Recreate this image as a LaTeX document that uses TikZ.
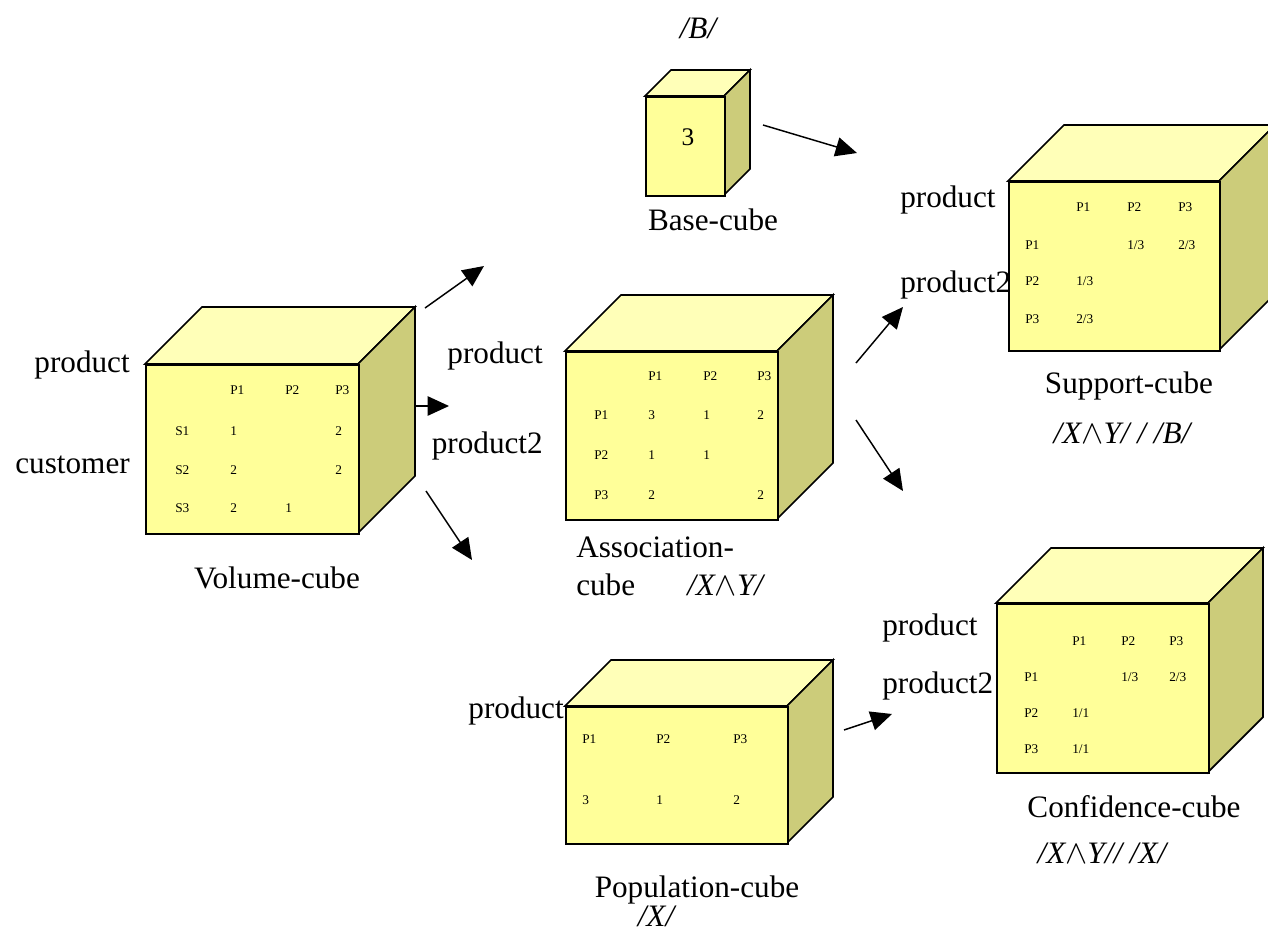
\documentclass[tikz,border=0pt]{standalone}
\usepackage{fontspec}
\setmainfont{Liberation Serif}
\usetikzlibrary{arrows.meta}

\definecolor{cubefront}{HTML}{FFFF99}
\definecolor{cubetop}{HTML}{FFFFB8}
\definecolor{cubeside}{HTML}{CCCC7A}

% cube: name, x, y (top-left of front face), width, height, depth
\newcommand\boxcube[6]{%
  \pgfmathsetmacro\cxr{#2+#4}%
  \pgfmathsetmacro\cyb{#3+#5}%
  \pgfmathsetmacro\cxd{#2+#6}%
  \pgfmathsetmacro\cyd{#3-#6}%
  \pgfmathsetmacro\cxrd{#2+#4+#6}%
  \pgfmathsetmacro\cybd{#3+#5-#6}%
  \draw[cubeedge,fill=cubetop] (#2,#3) -- (\cxd,\cyd) -- (\cxrd,\cyd) -- (\cxr,#3) -- cycle;
  \draw[cubeedge,fill=cubeside] (\cxr,#3) -- (\cxrd,\cyd) -- (\cxrd,\cybd) -- (\cxr,\cyb) -- cycle;
  \node[cubeedge,fill=cubefront,draw,rectangle,inner sep=0pt,anchor=north west,
        minimum width=#4*0.75pt,minimum height=#5*0.75pt] (#1) at (#2,#3) {};
}

\newcommand\wedgeof[2]{{\itshape /#1}$\wedge${\itshape #2/}}

\begin{document}
\begin{tikzpicture}[x=0.75pt,y=-0.75pt,
  cubeedge/.style={line width=1.3pt,line join=miter},
  biglabel/.style={font=\fontsize{23.4}{28}\selectfont,inner sep=0pt},
  cell/.style={font=\fontsize{10}{12}\selectfont,inner sep=0pt,anchor=west},
  flow/.style={-{Triangle[length=16pt,width=14.5pt]},line width=1.1pt}]
\useasboundingbox (0,0) rectangle (1268,933);
\clip (0,0) rectangle (1268,933);

% ---------- Volume-cube ----------
\boxcube{vol}{145}{364}{213}{169}{57}
\node[biglabel,anchor=base east] (vol-prod) at (130,372) {product};
\node[biglabel,anchor=base east] (vol-cust) at (130,473) {customer};
\node[biglabel,anchor=base] (vol-name) at (277,588) {Volume-cube};
\node[cell] (vol-h1) at (230,390) {P1};
\node[cell] (vol-h2) at (285,390) {P2};
\node[cell] (vol-h3) at (335,390) {P3};
\node[cell] (vol-r1) at (175,431) {S1};
\node[cell] (vol-r2) at (175,470) {S2};
\node[cell] (vol-r3) at (175,508) {S3};
\node[cell] (vol-11) at (230,431) {1};
\node[cell] (vol-13) at (335,431) {2};
\node[cell] (vol-21) at (230,470) {2};
\node[cell] (vol-23) at (335,470) {2};
\node[cell] (vol-31) at (230,508) {2};
\node[cell] (vol-32) at (285,508) {1};

% ---------- Association-cube ----------
\boxcube{asc}{565}{351}{212}{168}{56}
\node[biglabel,anchor=base east] (asc-prod) at (543,363) {product};
\node[biglabel,anchor=base east] (asc-prod2) at (543,453) {product2};
\node[biglabel,anchor=base west] (asc-name) at (576,557) {Association-};
\node[biglabel,anchor=base west] (asc-name2) at (576,595) {cube};
\node[biglabel,anchor=base west] (asc-form) at (687,595) {\wedgeof{X}{Y}};
\node[cell] (asc-h1) at (648,376) {P1};
\node[cell] (asc-h2) at (703,376) {P2};
\node[cell] (asc-h3) at (757,376) {P3};
\node[cell] (asc-r1) at (594,415) {P1};
\node[cell] (asc-r2) at (594,455) {P2};
\node[cell] (asc-r3) at (594,495) {P3};
\node[cell] (asc-11) at (648,415) {3};
\node[cell] (asc-12) at (703,415) {1};
\node[cell] (asc-13) at (757,415) {2};
\node[cell] (asc-21) at (648,455) {1};
\node[cell] (asc-22) at (703,455) {1};
\node[cell] (asc-31) at (648,495) {2};
\node[cell] (asc-33) at (757,495) {2};

% ---------- Base-cube ----------
\boxcube{base}{645}{96}{79}{99}{26}
\node[biglabel,anchor=base] (base-form) at (698,38) {\itshape /B/};
\node[font=\fontsize{19}{22}\selectfont,inner sep=0pt] (base-val) at (688,137) {3};
\node[biglabel,anchor=base] (base-name) at (713,230) {Base-cube};

% ---------- Support-cube ----------
\boxcube{sup}{1008}{181}{211}{169}{56}
\node[biglabel,anchor=base west] (sup-prod) at (900,207) {product};
\node[biglabel,anchor=base west] (sup-prod2) at (900,292) {product2};
\node[biglabel,anchor=base] (sup-name) at (1129,393) {Support-cube};
\node[biglabel,anchor=base] (sup-form) at (1122,443) {\wedgeof{X}{Y}\itshape{} / /B/};
\node[cell] (sup-h1) at (1076,207) {P1};
\node[cell] (sup-h2) at (1127,207) {P2};
\node[cell] (sup-h3) at (1178,207) {P3};
\node[cell] (sup-r1) at (1025,245) {P1};
\node[cell] (sup-r2) at (1025,281) {P2};
\node[cell] (sup-r3) at (1025,319) {P3};
\node[cell] (sup-12) at (1127,245) {1/3};
\node[cell] (sup-13) at (1178,245) {2/3};
\node[cell] (sup-21) at (1076,281) {1/3};
\node[cell] (sup-31) at (1076,319) {2/3};

% ---------- Population-cube ----------
\boxcube{pop}{565}{706}{222}{137}{46}
\node[biglabel,anchor=base east] (pop-prod) at (564,718) {product};
\node[biglabel,anchor=base] (pop-name) at (697,897) {Population-cube};
\node[biglabel,anchor=base] (pop-form) at (656,926) {\itshape /X/};
\node[cell] (pop-h1) at (582,739) {P1};
\node[cell] (pop-h2) at (656,739) {P2};
\node[cell] (pop-h3) at (733,739) {P3};
\node[cell] (pop-1) at (582,800) {3};
\node[cell] (pop-2) at (656,800) {1};
\node[cell] (pop-3) at (733,800) {2};

% ---------- Confidence-cube ----------
\boxcube{conf}{996}{603}{212}{169}{55}
\node[biglabel,anchor=base west] (conf-prod) at (882,635) {product};
\node[biglabel,anchor=base west] (conf-prod2) at (882,693) {product2};
\node[biglabel,anchor=base] (conf-name) at (1134,817) {Confidence-cube};
\node[biglabel,anchor=base] (conf-form) at (1102,863) {\wedgeof{X}{Y}\itshape/ /X/};
\node[cell] (conf-h1) at (1072,641) {P1};
\node[cell] (conf-h2) at (1121,641) {P2};
\node[cell] (conf-h3) at (1169,641) {P3};
\node[cell] (conf-r1) at (1024,677) {P1};
\node[cell] (conf-r2) at (1024,713) {P2};
\node[cell] (conf-r3) at (1024,749) {P3};
\node[cell] (conf-12) at (1121,677) {1/3};
\node[cell] (conf-13) at (1169,677) {2/3};
\node[cell] (conf-21) at (1072,713) {1/1};
\node[cell] (conf-31) at (1072,749) {1/1};

% ---------- flow arrows ----------
\coordinate (a1s) at (425,308);  \coordinate (a1e) at (484,266);
\coordinate (a2s) at (414,406);  \coordinate (a2e) at (449,406);
\coordinate (a3s) at (426,491);  \coordinate (a3e) at (472,560);
\coordinate (a4s) at (763,125);  \coordinate (a4e) at (857,153);
\coordinate (a5s) at (856,363);  \coordinate (a5e) at (903,307);
\coordinate (a6s) at (856,420);  \coordinate (a6e) at (903,491);
\coordinate (a7s) at (844,730);  \coordinate (a7e) at (892,714);
\draw[flow] (a1s) -- (a1e);
\draw[flow] (a2s) -- (a2e);
\draw[flow] (a3s) -- (a3e);
\draw[flow] (a4s) -- (a4e);
\draw[flow] (a5s) -- (a5e);
\draw[flow] (a6s) -- (a6e);
\draw[flow] (a7s) -- (a7e);
\end{tikzpicture}
\end{document}
